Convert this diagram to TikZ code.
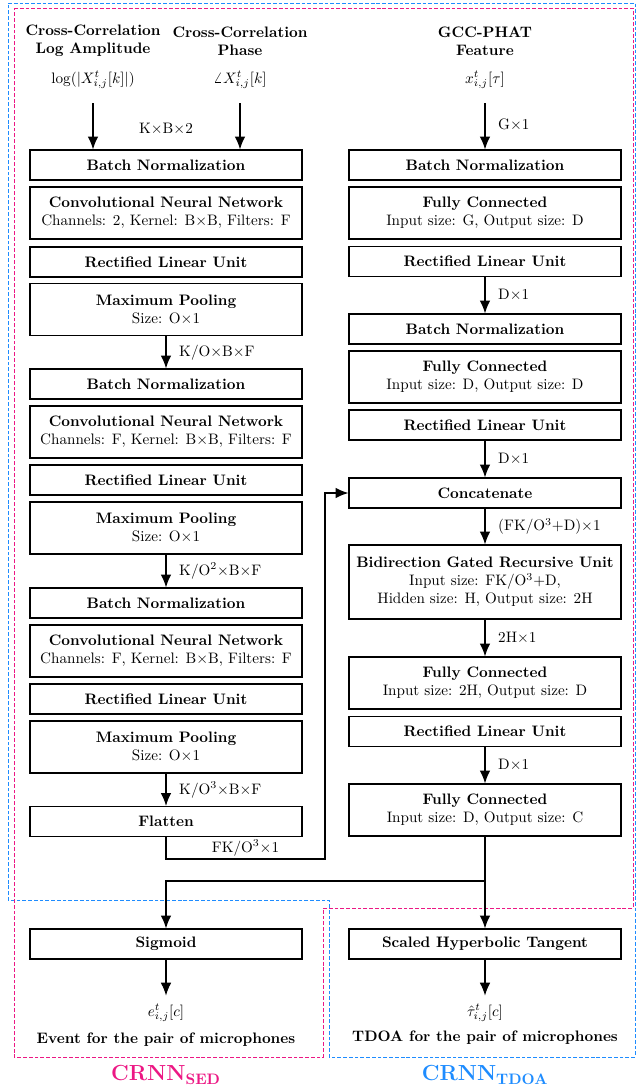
\documentclass[tikz,border=0pt]{standalone}
\usetikzlibrary{arrows.meta}
\definecolor{sedpink}{RGB}{236,24,132}
\definecolor{tdoablue}{RGB}{30,140,255}
\def\pxu{0.66pt}
\begin{document}
\begin{tikzpicture}[x=\pxu,y=-\pxu,
    layer/.style={draw,line width=0.8pt,minimum width=272*\pxu,minimum height=30*\pxu,align=center,inner sep=1pt},
    tall/.style={layer,minimum height=52*\pxu},
    arr/.style={line width=0.8pt,-{Latex[length=8.5pt,width=7pt]}},
    dim/.style={right,xshift=5pt},
    region/.style={dashed,dash pattern=on 2.5pt off 1.3pt,semithick}]
    \useasboundingbox (0,0) rectangle (636,1088);
    % dashed outlines of the two networks
    \draw[region,tdoablue] (8,3) -- (635,3) -- (635,1057) -- (329,1057) -- (329,900) -- (8,900) -- cycle;
    \draw[region,sedpink] (14,8) -- (633,8) -- (633,908) -- (323,908) -- (323,1057) -- (14,1057) -- cycle;
    \node[sedpink,font=\Large\bfseries] (sedname) at (166,1075) {CRNN$_{\mathbf{SED}}$};
    \node[tdoablue,font=\Large\bfseries] (tdoaname) at (485,1075) {CRNN$_{\mathbf{TDOA}}$};

    % inputs
    \node[align=center,font=\bfseries] (amptitle) at (93,41) {Cross-Correlation\\Log Amplitude};
    \node[align=center,font=\bfseries] (phasetitle) at (240,41) {Cross-Correlation\\Phase};
    \node[align=center,font=\bfseries] (gcctitle) at (485,41) {GCC-PHAT\\Feature};
    \node (amp) at (93,80) {$\log(|X^t_{i,j}[k]|)$};
    \node (phase) at (240,80) {$\angle X^t_{i,j}[k]$};
    \node (gcc) at (485,80) {$x^t_{i,j}[\tau]$};
    \node (kb2) at (166,129) {K$\times$B$\times$2};

    % convolutional branch
    \node[layer] (bnA) at (166,165) {\textbf{Batch Normalization}};
    \node[tall] (cnnA) at (166,213) {\textbf{Convolutional Neural Network}\\Channels: 2, Kernel: B$\times$B, Filters: F};
    \node[layer] (reluA) at (166,262) {\textbf{Rectified Linear Unit}};
    \node[tall] (poolA) at (166,309.5) {\textbf{Maximum Pooling}\\Size: O$\times$1};
    \node[layer] (bnB) at (166,384) {\textbf{Batch Normalization}};
    \node[tall] (cnnB) at (166,432) {\textbf{Convolutional Neural Network}\\Channels: F, Kernel: B$\times$B, Filters: F};
    \node[layer] (reluB) at (166,480) {\textbf{Rectified Linear Unit}};
    \node[tall] (poolB) at (166,528) {\textbf{Maximum Pooling}\\Size: O$\times$1};
    \node[layer] (bnC) at (166,603) {\textbf{Batch Normalization}};
    \node[tall] (cnnC) at (166,651) {\textbf{Convolutional Neural Network}\\Channels: F, Kernel: B$\times$B, Filters: F};
    \node[layer] (reluC) at (166,699) {\textbf{Rectified Linear Unit}};
    \node[tall] (poolC) at (166,747) {\textbf{Maximum Pooling}\\Size: O$\times$1};
    \node[layer] (flat) at (166,821.5) {\textbf{Flatten}};

    % fully connected branch
    \node[layer] (bnG) at (485,165) {\textbf{Batch Normalization}};
    \node[tall] (fcG) at (485,213) {\textbf{Fully Connected}\\Input size: G, Output size: D};
    \node[layer] (reluG) at (485,261.5) {\textbf{Rectified Linear Unit}};
    \node[layer] (bnD) at (485,329) {\textbf{Batch Normalization}};
    \node[tall] (fcD) at (485,377) {\textbf{Fully Connected}\\Input size: D, Output size: D};
    \node[layer] (reluD) at (485,425) {\textbf{Rectified Linear Unit}};
    \node[layer] (concat) at (485,493) {\textbf{Concatenate}};
    \node[layer,minimum height=74*\pxu] (gru) at (485,582) {\textbf{Bidirection Gated Recursive Unit}\\Input size: FK/O$^3$+D,\\Hidden size: H, Output size: 2H};
    \node[tall] (fcH) at (485,683) {\textbf{Fully Connected}\\Input size: 2H, Output size: D};
    \node[layer] (reluH) at (485,731.5) {\textbf{Rectified Linear Unit}};
    \node[tall] (fcC) at (485,810) {\textbf{Fully Connected}\\Input size: D, Output size: C};

    % output heads
    \node[layer] (sig) at (166,944) {\textbf{Sigmoid}};
    \node[layer] (tanh) at (485,944) {\textbf{Scaled Hyperbolic Tangent}};
    \node (evt) at (166,1013) {$e^t_{i,j}[c]$};
    \node[font=\bfseries] (evtlabel) at (166,1040) {Event for the pair of microphones};
    \node (tdoa) at (485,1013) {$\hat{\tau}^t_{i,j}[c]$};
    \node[font=\bfseries] (tdoalabel) at (485,1038) {TDOA for the pair of microphones};

    \coordinate (turn) at (325,859);
    \coordinate (split) at (485,881);

    \draw[arr,shorten <=6pt] (amp) -- (amp |- bnA.north);
    \draw[arr,shorten <=6pt] (phase) -- (phase |- bnA.north);
    \draw[arr,shorten <=6pt] (gcc) -- (bnG) node[pos=0.55, dim] {G$\times$1};
    \draw[arr] (poolA) -- (bnB) node[pos=0.5, dim] {K/O$\times$B$\times$F};
    \draw[arr] (poolB) -- (bnC) node[pos=0.5, dim] {K/O$^2\times$B$\times$F};
    \draw[arr] (poolC) -- (flat) node[pos=0.5, dim] {K/O$^3\times$B$\times$F};
    \draw[arr] (flat.south) |- (turn) node[pos=0.75, above, inner sep=1.5pt] {FK/O$^3\times$1} |- (concat.west);
    \draw[arr] (reluG) -- (bnD) node[pos=0.5, dim] {D$\times$1};
    \draw[arr] (reluD) -- (concat) node[pos=0.5, dim] {D$\times$1};
    \draw[arr] (concat) -- (gru) node[pos=0.5, dim] {(FK/O$^3$+D)$\times$1};
    \draw[arr] (gru) -- (fcH) node[pos=0.5, dim] {2H$\times$1};
    \draw[arr] (reluH) -- (fcC) node[pos=0.5, dim] {D$\times$1};
    \draw[arr] (fcC) -- (tanh);
    \draw[arr] (split) -| (sig.north);
    \draw[arr,shorten >=2pt] (sig) -- (evt);
    \draw[arr,shorten >=2pt] (tanh) -- (tdoa);
\end{tikzpicture}
\end{document}
